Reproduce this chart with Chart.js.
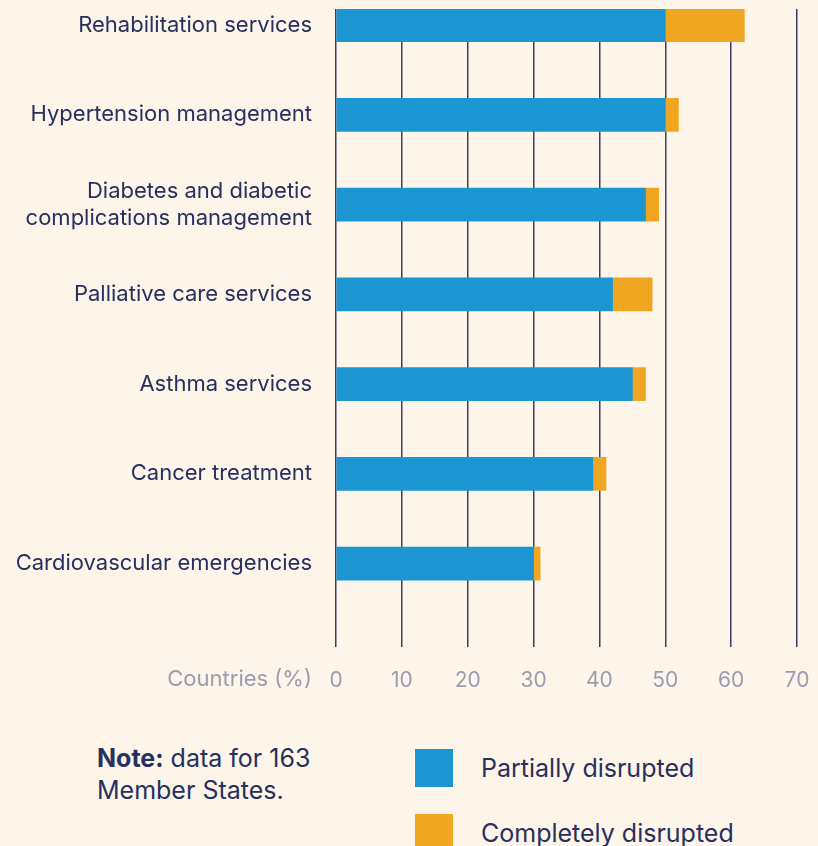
<!DOCTYPE html>
<html>
<head>
<meta charset="utf-8">
<script src="https://cdn.jsdelivr.net/npm/chart.js@4/dist/chart.umd.min.js"></script>
<style>
  body { margin: 0; background: #fdf5e9; font-family: Inter, "Noto Sans", sans-serif; }
  #wrap { position: relative; width: 818px; height: 846px; overflow: hidden; }
  #chartBox { position: absolute; left: 0; top: 0; width: 818px; height: 700px; }
  #note { position: absolute; left: 97px; top: 742px; font-size: 25px; line-height: 32px; color: #27305e; }
  #legend { position: absolute; left: 415px; top: 749px; }
  .item { display: flex; align-items: center; height: 38px; margin-bottom: 27px; }
  .sw { width: 38px; height: 38px; margin-right: 28px; }
  .lab { font-size: 25px; color: #27305e; }
</style>
</head>
<body>
<div id="wrap">
  <div id="chartBox"><canvas id="c"></canvas></div>
  <div id="note"><b>Note:</b> data for 163<br>Member States.</div>
  <div id="legend"></div>
</div>
<script>
const categories = [
    "Rehabilitation services",
    "Hypertension management",
    ["Diabetes and diabetic", "complications management"],
    "Palliative care services",
    "Asthma services",
    "Cancer treatment",
    "Cardiovascular emergencies"
];
const partially = [50, 50, 47, 42, 45, 39, 30];
const completely = [12, 2, 2, 6, 2, 2, 1];
const xTicks = [0, 10, 20, 30, 40, 50, 60, 70];

const blue = "#1b96d3";
const orange = "#f0a620";
const navy = "#27305e";
const grey = "#9a9bb0";

// bars sit on a linear y index so the grid can run past the first/last bar
function toPoints(values) {
    return values.map((v, i) => ({ x: v, y: i }));
}

const axisTitle = {
    id: "axisTitle",
    afterDraw(chart) {
        const ctx = chart.ctx;
        const xs = chart.scales.x;
        ctx.save();
        ctx.font = "22px Inter";
        ctx.fillStyle = grey;
        ctx.textAlign = "right";
        ctx.textBaseline = "middle";
        ctx.fillText("Countries (%)", xs.left - 24, xs.top + 32);
        ctx.restore();
    }
};

const ctx = document.getElementById("c").getContext("2d");
const chart = new Chart(ctx, {
    type: "bar",
    data: {
        datasets: [
            { label: "Partially disrupted", data: toPoints(partially), backgroundColor: blue },
            { label: "Completely disrupted", data: toPoints(completely), backgroundColor: orange }
        ]
    },
    plugins: [axisTitle],
    options: {
        indexAxis: "y",
        responsive: true,
        maintainAspectRatio: false,
        animation: false,
        barThickness: 33,
        layout: { padding: { top: 9, right: 21, left: 0, bottom: 0 } },
        plugins: { legend: { display: false }, tooltip: { enabled: false } },
        scales: {
            x: {
                stacked: true,
                min: 0,
                max: 70,
                afterBuildTicks: s => { s.ticks = xTicks.map(v => ({ value: v })); },
                afterFit: s => { s.height = 53; s.paddingLeft = 0; s.paddingRight = 0; },
                grid: { color: "#3a3d68", lineWidth: 1.5, drawTicks: false },
                border: { display: false },
                ticks: { color: grey, font: { family: "Inter", size: 21 }, padding: 21 }
            },
            y: {
                type: "linear",
                stacked: true,
                reverse: true,
                offset: false,
                min: -0.18,
                max: 6.93,
                afterBuildTicks: s => { s.ticks = categories.map((c, i) => ({ value: i })); },
                afterFit: s => { s.width = 336; s.paddingTop = 0; s.paddingBottom = 0; },
                grid: { display: false, drawTicks: false, offset: false },
                border: { display: false },
                ticks: {
                    color: navy,
                    font: { family: "Inter", size: 22, lineHeight: 1.23 },
                    padding: 24,
                    callback: v => categories[v]
                }
            }
        }
    }
});

const legend = document.getElementById("legend");
chart.data.datasets.forEach(ds => {
    const item = document.createElement("div");
    item.className = "item";
    item.innerHTML = '<div class="sw" style="background:' + ds.backgroundColor + '"></div><span class="lab">' + ds.label + '</span>';
    legend.appendChild(item);
});
</script>
</body>
</html>
